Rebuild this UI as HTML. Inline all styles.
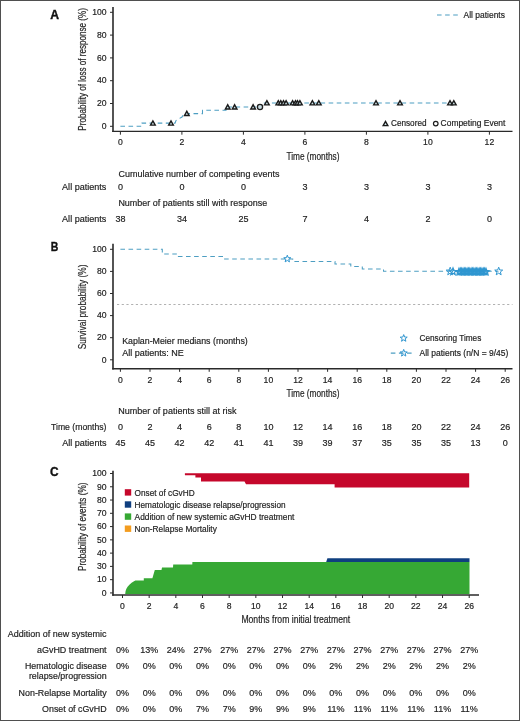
<!DOCTYPE html>
<html><head><meta charset="utf-8"><title>Figure</title>
<style>
html,body{margin:0;padding:0;background:#fff;}
body{width:520px;height:721px;overflow:hidden;}
svg{display:block;font-family:"Liberation Sans",sans-serif;will-change:transform;}
</style></head>
<body>
<svg width="520" height="721" viewBox="0 0 520 721" fill="#222222">
<rect x="0" y="0" width="520" height="721" fill="#fff"/>
<rect x="0.5" y="0.5" width="519" height="720" fill="none" stroke="#4f4f4f" stroke-width="1"/>
<text x="50.30" y="18.70" font-size="12.2" font-weight="bold" fill="#111" stroke="#111" stroke-width="0.35">A</text>
<text x="85.90" y="69.40" font-size="10.6" text-anchor="middle" textLength="122.50" lengthAdjust="spacingAndGlyphs" transform="rotate(-90 85.90 69.40)" stroke="#303030" stroke-width="0.22">Probability of loss of response (%)</text>
<line x1="113.00" y1="7.00" x2="113.00" y2="132.00" stroke="#2a2a2a" stroke-width="1.6"/>
<line x1="112.20" y1="131.40" x2="512.50" y2="131.40" stroke="#2a2a2a" stroke-width="1.4"/>
<line x1="110.00" y1="126.30" x2="113.00" y2="126.30" stroke="#2a2a2a" stroke-width="1"/>
<text x="106.60" y="129.05" font-size="8.6" text-anchor="end" stroke="#222222" stroke-width="0.18">0</text>
<line x1="110.00" y1="103.50" x2="113.00" y2="103.50" stroke="#2a2a2a" stroke-width="1"/>
<text x="106.60" y="106.25" font-size="8.6" text-anchor="end" stroke="#222222" stroke-width="0.18">20</text>
<line x1="110.00" y1="80.70" x2="113.00" y2="80.70" stroke="#2a2a2a" stroke-width="1"/>
<text x="106.60" y="83.45" font-size="8.6" text-anchor="end" stroke="#222222" stroke-width="0.18">40</text>
<line x1="110.00" y1="57.90" x2="113.00" y2="57.90" stroke="#2a2a2a" stroke-width="1"/>
<text x="106.60" y="60.65" font-size="8.6" text-anchor="end" stroke="#222222" stroke-width="0.18">60</text>
<line x1="110.00" y1="35.10" x2="113.00" y2="35.10" stroke="#2a2a2a" stroke-width="1"/>
<text x="106.60" y="37.85" font-size="8.6" text-anchor="end" stroke="#222222" stroke-width="0.18">80</text>
<line x1="110.00" y1="12.30" x2="113.00" y2="12.30" stroke="#2a2a2a" stroke-width="1"/>
<text x="106.60" y="15.05" font-size="8.6" text-anchor="end" stroke="#222222" stroke-width="0.18">100</text>
<line x1="120.40" y1="131.40" x2="120.40" y2="134.70" stroke="#2a2a2a" stroke-width="1"/>
<text x="120.40" y="145.45" font-size="8.6" text-anchor="middle" stroke="#222222" stroke-width="0.18">0</text>
<line x1="181.90" y1="131.40" x2="181.90" y2="134.70" stroke="#2a2a2a" stroke-width="1"/>
<text x="181.90" y="145.45" font-size="8.6" text-anchor="middle" stroke="#222222" stroke-width="0.18">2</text>
<line x1="243.40" y1="131.40" x2="243.40" y2="134.70" stroke="#2a2a2a" stroke-width="1"/>
<text x="243.40" y="145.45" font-size="8.6" text-anchor="middle" stroke="#222222" stroke-width="0.18">4</text>
<line x1="304.90" y1="131.40" x2="304.90" y2="134.70" stroke="#2a2a2a" stroke-width="1"/>
<text x="304.90" y="145.45" font-size="8.6" text-anchor="middle" stroke="#222222" stroke-width="0.18">6</text>
<line x1="366.40" y1="131.40" x2="366.40" y2="134.70" stroke="#2a2a2a" stroke-width="1"/>
<text x="366.40" y="145.45" font-size="8.6" text-anchor="middle" stroke="#222222" stroke-width="0.18">8</text>
<line x1="427.90" y1="131.40" x2="427.90" y2="134.70" stroke="#2a2a2a" stroke-width="1"/>
<text x="427.90" y="145.45" font-size="8.6" text-anchor="middle" stroke="#222222" stroke-width="0.18">10</text>
<line x1="489.40" y1="131.40" x2="489.40" y2="134.70" stroke="#2a2a2a" stroke-width="1"/>
<text x="489.40" y="145.45" font-size="8.6" text-anchor="middle" stroke="#222222" stroke-width="0.18">12</text>
<text x="286.50" y="160.20" font-size="10.5" textLength="53.00" lengthAdjust="spacingAndGlyphs" stroke="#303030" stroke-width="0.22">Time (months)</text>
<path d="M120.40,126.30 L142.00,126.30 L142.00,123.10 L175.00,123.10 L176.00,120.50 L182.00,117.00 L184.00,113.60 L202.50,113.60 L202.50,110.20 L226.00,110.20 L226.00,107.00 L261.50,107.00 L261.50,102.90 L455.50,102.90" fill="none" stroke="#4d9ec2" stroke-width="1.05" stroke-dasharray="4.6 3.5"/>
<path d="M150.55,125.11 L152.90,120.89 L155.25,125.11 Z" fill="#cfe4e8" stroke="#1a1a1a" stroke-width="1.4" stroke-linejoin="miter"/>
<path d="M168.65,125.11 L171.00,120.89 L173.35,125.11 Z" fill="#cfe4e8" stroke="#1a1a1a" stroke-width="1.4" stroke-linejoin="miter"/>
<path d="M184.45,115.52 L186.80,111.29 L189.15,115.52 Z" fill="#cfe4e8" stroke="#1a1a1a" stroke-width="1.4" stroke-linejoin="miter"/>
<path d="M225.35,109.02 L227.70,104.79 L230.05,109.02 Z" fill="#cfe4e8" stroke="#1a1a1a" stroke-width="1.4" stroke-linejoin="miter"/>
<path d="M232.25,109.02 L234.60,104.79 L236.95,109.02 Z" fill="#cfe4e8" stroke="#1a1a1a" stroke-width="1.4" stroke-linejoin="miter"/>
<path d="M250.75,109.02 L253.10,104.79 L255.45,109.02 Z" fill="#cfe4e8" stroke="#1a1a1a" stroke-width="1.4" stroke-linejoin="miter"/>
<path d="M264.55,104.91 L266.90,100.69 L269.25,104.91 Z" fill="#cfe4e8" stroke="#1a1a1a" stroke-width="1.4" stroke-linejoin="miter"/>
<path d="M275.95,104.91 L278.30,100.69 L280.65,104.91 Z" fill="#cfe4e8" stroke="#1a1a1a" stroke-width="1.4" stroke-linejoin="miter"/>
<path d="M278.45,104.91 L280.80,100.69 L283.15,104.91 Z" fill="#cfe4e8" stroke="#1a1a1a" stroke-width="1.4" stroke-linejoin="miter"/>
<path d="M281.15,104.91 L283.50,100.69 L285.85,104.91 Z" fill="#cfe4e8" stroke="#1a1a1a" stroke-width="1.4" stroke-linejoin="miter"/>
<path d="M283.75,104.91 L286.10,100.69 L288.45,104.91 Z" fill="#cfe4e8" stroke="#1a1a1a" stroke-width="1.4" stroke-linejoin="miter"/>
<path d="M290.25,104.91 L292.60,100.69 L294.95,104.91 Z" fill="#cfe4e8" stroke="#1a1a1a" stroke-width="1.4" stroke-linejoin="miter"/>
<path d="M293.15,104.91 L295.50,100.69 L297.85,104.91 Z" fill="#cfe4e8" stroke="#1a1a1a" stroke-width="1.4" stroke-linejoin="miter"/>
<path d="M295.15,104.91 L297.50,100.69 L299.85,104.91 Z" fill="#cfe4e8" stroke="#1a1a1a" stroke-width="1.4" stroke-linejoin="miter"/>
<path d="M297.55,104.91 L299.90,100.69 L302.25,104.91 Z" fill="#cfe4e8" stroke="#1a1a1a" stroke-width="1.4" stroke-linejoin="miter"/>
<path d="M310.05,104.91 L312.40,100.69 L314.75,104.91 Z" fill="#cfe4e8" stroke="#1a1a1a" stroke-width="1.4" stroke-linejoin="miter"/>
<path d="M316.45,104.91 L318.80,100.69 L321.15,104.91 Z" fill="#cfe4e8" stroke="#1a1a1a" stroke-width="1.4" stroke-linejoin="miter"/>
<path d="M373.65,104.91 L376.00,100.69 L378.35,104.91 Z" fill="#cfe4e8" stroke="#1a1a1a" stroke-width="1.4" stroke-linejoin="miter"/>
<path d="M397.65,104.91 L400.00,100.69 L402.35,104.91 Z" fill="#cfe4e8" stroke="#1a1a1a" stroke-width="1.4" stroke-linejoin="miter"/>
<path d="M447.65,104.91 L450.00,100.69 L452.35,104.91 Z" fill="#cfe4e8" stroke="#1a1a1a" stroke-width="1.4" stroke-linejoin="miter"/>
<path d="M451.45,104.91 L453.80,100.69 L456.15,104.91 Z" fill="#cfe4e8" stroke="#1a1a1a" stroke-width="1.4" stroke-linejoin="miter"/>
<circle cx="260.0" cy="107.0" r="2.6" fill="#c9dde3" stroke="#1e1e1e" stroke-width="1.3"/>
<line x1="437.00" y1="15.00" x2="458.50" y2="15.00" stroke="#4d9ec2" stroke-width="1.1" stroke-dasharray="4.6 3.5"/>
<text x="463.60" y="17.80" font-size="8.4" textLength="41.30" lengthAdjust="spacingAndGlyphs" stroke="#222222" stroke-width="0.18">All patients</text>
<path d="M383.15,125.61 L385.50,121.39 L387.85,125.61 Z" fill="#cfe4e8" stroke="#1a1a1a" stroke-width="1.4" stroke-linejoin="miter"/>
<text x="391.00" y="126.30" font-size="8.2" textLength="35.50" lengthAdjust="spacingAndGlyphs" stroke="#222222" stroke-width="0.18">Censored</text>
<circle cx="435.75" cy="123.6" r="2.3" fill="#fff" stroke="#1e1e1e" stroke-width="1.2"/>
<text x="440.60" y="126.30" font-size="8.2" textLength="64.80" lengthAdjust="spacingAndGlyphs" stroke="#222222" stroke-width="0.18">Competing Event</text>
<text x="118.40" y="176.70" font-size="9" textLength="161.00" lengthAdjust="spacingAndGlyphs" stroke="#222222" stroke-width="0.18">Cumulative number of competing events</text>
<text x="62.10" y="189.70" font-size="9" textLength="44.20" lengthAdjust="spacingAndGlyphs" stroke="#222222" stroke-width="0.18">All patients</text>
<text x="120.40" y="189.70" font-size="9" text-anchor="middle" stroke="#222222" stroke-width="0.18">0</text>
<text x="181.90" y="189.70" font-size="9" text-anchor="middle" stroke="#222222" stroke-width="0.18">0</text>
<text x="243.40" y="189.70" font-size="9" text-anchor="middle" stroke="#222222" stroke-width="0.18">0</text>
<text x="304.90" y="189.70" font-size="9" text-anchor="middle" stroke="#222222" stroke-width="0.18">3</text>
<text x="366.40" y="189.70" font-size="9" text-anchor="middle" stroke="#222222" stroke-width="0.18">3</text>
<text x="427.90" y="189.70" font-size="9" text-anchor="middle" stroke="#222222" stroke-width="0.18">3</text>
<text x="489.40" y="189.70" font-size="9" text-anchor="middle" stroke="#222222" stroke-width="0.18">3</text>
<text x="118.40" y="205.80" font-size="9" textLength="148.80" lengthAdjust="spacingAndGlyphs" stroke="#222222" stroke-width="0.18">Number of patients still with response</text>
<text x="62.10" y="221.50" font-size="9" textLength="44.20" lengthAdjust="spacingAndGlyphs" stroke="#222222" stroke-width="0.18">All patients</text>
<text x="120.40" y="221.50" font-size="9" text-anchor="middle" stroke="#222222" stroke-width="0.18">38</text>
<text x="181.90" y="221.50" font-size="9" text-anchor="middle" stroke="#222222" stroke-width="0.18">34</text>
<text x="243.40" y="221.50" font-size="9" text-anchor="middle" stroke="#222222" stroke-width="0.18">25</text>
<text x="304.90" y="221.50" font-size="9" text-anchor="middle" stroke="#222222" stroke-width="0.18">7</text>
<text x="366.40" y="221.50" font-size="9" text-anchor="middle" stroke="#222222" stroke-width="0.18">4</text>
<text x="427.90" y="221.50" font-size="9" text-anchor="middle" stroke="#222222" stroke-width="0.18">2</text>
<text x="489.40" y="221.50" font-size="9" text-anchor="middle" stroke="#222222" stroke-width="0.18">0</text>
<text x="50.70" y="251.00" font-size="12.2" textLength="7.60" lengthAdjust="spacingAndGlyphs" font-weight="bold" fill="#111" stroke="#111" stroke-width="0.35">B</text>
<text x="86.00" y="306.90" font-size="10.6" text-anchor="middle" textLength="84.60" lengthAdjust="spacingAndGlyphs" transform="rotate(-90 86.00 306.90)" stroke="#303030" stroke-width="0.22">Survival probability (%)</text>
<line x1="113.00" y1="243.70" x2="113.00" y2="369.50" stroke="#2a2a2a" stroke-width="1.6"/>
<line x1="112.20" y1="368.80" x2="512.50" y2="368.80" stroke="#2a2a2a" stroke-width="1.4"/>
<line x1="110.00" y1="359.80" x2="113.00" y2="359.80" stroke="#2a2a2a" stroke-width="1"/>
<text x="106.60" y="362.55" font-size="8.6" text-anchor="end" stroke="#222222" stroke-width="0.18">0</text>
<line x1="110.00" y1="337.70" x2="113.00" y2="337.70" stroke="#2a2a2a" stroke-width="1"/>
<text x="106.60" y="340.45" font-size="8.6" text-anchor="end" stroke="#222222" stroke-width="0.18">20</text>
<line x1="110.00" y1="315.60" x2="113.00" y2="315.60" stroke="#2a2a2a" stroke-width="1"/>
<text x="106.60" y="318.35" font-size="8.6" text-anchor="end" stroke="#222222" stroke-width="0.18">40</text>
<line x1="110.00" y1="293.50" x2="113.00" y2="293.50" stroke="#2a2a2a" stroke-width="1"/>
<text x="106.60" y="296.25" font-size="8.6" text-anchor="end" stroke="#222222" stroke-width="0.18">60</text>
<line x1="110.00" y1="271.40" x2="113.00" y2="271.40" stroke="#2a2a2a" stroke-width="1"/>
<text x="106.60" y="274.15" font-size="8.6" text-anchor="end" stroke="#222222" stroke-width="0.18">80</text>
<line x1="110.00" y1="249.30" x2="113.00" y2="249.30" stroke="#2a2a2a" stroke-width="1"/>
<text x="106.60" y="252.05" font-size="8.6" text-anchor="end" stroke="#222222" stroke-width="0.18">100</text>
<line x1="120.40" y1="368.80" x2="120.40" y2="371.80" stroke="#2a2a2a" stroke-width="1"/>
<text x="120.40" y="382.90" font-size="8.6" text-anchor="middle" stroke="#222222" stroke-width="0.18">0</text>
<line x1="150.00" y1="368.80" x2="150.00" y2="371.80" stroke="#2a2a2a" stroke-width="1"/>
<text x="150.00" y="382.90" font-size="8.6" text-anchor="middle" stroke="#222222" stroke-width="0.18">2</text>
<line x1="179.60" y1="368.80" x2="179.60" y2="371.80" stroke="#2a2a2a" stroke-width="1"/>
<text x="179.60" y="382.90" font-size="8.6" text-anchor="middle" stroke="#222222" stroke-width="0.18">4</text>
<line x1="209.20" y1="368.80" x2="209.20" y2="371.80" stroke="#2a2a2a" stroke-width="1"/>
<text x="209.20" y="382.90" font-size="8.6" text-anchor="middle" stroke="#222222" stroke-width="0.18">6</text>
<line x1="238.80" y1="368.80" x2="238.80" y2="371.80" stroke="#2a2a2a" stroke-width="1"/>
<text x="238.80" y="382.90" font-size="8.6" text-anchor="middle" stroke="#222222" stroke-width="0.18">8</text>
<line x1="268.40" y1="368.80" x2="268.40" y2="371.80" stroke="#2a2a2a" stroke-width="1"/>
<text x="268.40" y="382.90" font-size="8.6" text-anchor="middle" stroke="#222222" stroke-width="0.18">10</text>
<line x1="298.00" y1="368.80" x2="298.00" y2="371.80" stroke="#2a2a2a" stroke-width="1"/>
<text x="298.00" y="382.90" font-size="8.6" text-anchor="middle" stroke="#222222" stroke-width="0.18">12</text>
<line x1="327.60" y1="368.80" x2="327.60" y2="371.80" stroke="#2a2a2a" stroke-width="1"/>
<text x="327.60" y="382.90" font-size="8.6" text-anchor="middle" stroke="#222222" stroke-width="0.18">14</text>
<line x1="357.20" y1="368.80" x2="357.20" y2="371.80" stroke="#2a2a2a" stroke-width="1"/>
<text x="357.20" y="382.90" font-size="8.6" text-anchor="middle" stroke="#222222" stroke-width="0.18">16</text>
<line x1="386.80" y1="368.80" x2="386.80" y2="371.80" stroke="#2a2a2a" stroke-width="1"/>
<text x="386.80" y="382.90" font-size="8.6" text-anchor="middle" stroke="#222222" stroke-width="0.18">18</text>
<line x1="416.40" y1="368.80" x2="416.40" y2="371.80" stroke="#2a2a2a" stroke-width="1"/>
<text x="416.40" y="382.90" font-size="8.6" text-anchor="middle" stroke="#222222" stroke-width="0.18">20</text>
<line x1="446.00" y1="368.80" x2="446.00" y2="371.80" stroke="#2a2a2a" stroke-width="1"/>
<text x="446.00" y="382.90" font-size="8.6" text-anchor="middle" stroke="#222222" stroke-width="0.18">22</text>
<line x1="475.60" y1="368.80" x2="475.60" y2="371.80" stroke="#2a2a2a" stroke-width="1"/>
<text x="475.60" y="382.90" font-size="8.6" text-anchor="middle" stroke="#222222" stroke-width="0.18">24</text>
<line x1="505.20" y1="368.80" x2="505.20" y2="371.80" stroke="#2a2a2a" stroke-width="1"/>
<text x="505.20" y="382.90" font-size="8.6" text-anchor="middle" stroke="#222222" stroke-width="0.18">26</text>
<text x="286.50" y="397.20" font-size="10.5" textLength="53.00" lengthAdjust="spacingAndGlyphs" stroke="#303030" stroke-width="0.22">Time (months)</text>
<line x1="117.00" y1="304.50" x2="512.50" y2="304.50" stroke="#a8a8a8" stroke-width="0.9" stroke-dasharray="2.2 2.5"/>
<path d="M120.40,249.20 L162.30,249.20 L162.30,254.00 L176.30,254.00 L176.30,256.50 L223.00,256.50 L223.00,258.90 L292.70,258.90 L292.70,261.50 L335.00,261.50 L335.00,264.00 L350.80,264.00 L350.80,266.50 L362.30,266.50 L362.30,268.90 L383.50,268.90 L383.50,271.30 L498.50,271.30" fill="none" stroke="#4d9ec2" stroke-width="1.05" stroke-dasharray="4.6 3.5"/>
<polygon points="287.30,255.20 288.21,257.64 290.82,257.76 288.78,259.38 289.47,261.89 287.30,260.45 285.13,261.89 285.82,259.38 283.78,257.76 286.39,257.64" fill="none" stroke="#2f96d0" stroke-width="1.0" stroke-linejoin="miter"/>
<polygon points="450.20,267.20 451.24,269.97 454.19,270.10 451.88,271.95 452.67,274.80 450.20,273.16 447.73,274.80 448.52,271.95 446.21,270.10 449.16,269.97" fill="none" stroke="#2f96d0" stroke-width="1.0" stroke-linejoin="miter"/>
<polygon points="453.00,267.70 453.96,270.27 456.71,270.39 454.56,272.11 455.29,274.76 453.00,273.24 450.71,274.76 451.44,272.11 449.29,270.39 452.04,270.27" fill="none" stroke="#2f96d0" stroke-width="1.1" stroke-linejoin="miter"/>
<polygon points="459.00,268.10 459.91,270.54 462.52,270.66 460.48,272.28 461.17,274.79 459.00,273.35 456.83,274.79 457.52,272.28 455.48,270.66 458.09,270.54" fill="none" stroke="#2f96d0" stroke-width="1.1" stroke-linejoin="miter"/>
<polygon points="460.35,268.10 461.26,270.54 463.87,270.66 461.83,272.28 462.52,274.79 460.35,273.35 458.18,274.79 458.87,272.28 456.83,270.66 459.44,270.54" fill="none" stroke="#2f96d0" stroke-width="1.1" stroke-linejoin="miter"/>
<polygon points="461.70,268.10 462.61,270.54 465.22,270.66 463.18,272.28 463.87,274.79 461.70,273.35 459.53,274.79 460.22,272.28 458.18,270.66 460.79,270.54" fill="none" stroke="#2f96d0" stroke-width="1.1" stroke-linejoin="miter"/>
<polygon points="463.05,268.10 463.96,270.54 466.57,270.66 464.53,272.28 465.22,274.79 463.05,273.35 460.88,274.79 461.57,272.28 459.53,270.66 462.14,270.54" fill="none" stroke="#2f96d0" stroke-width="1.1" stroke-linejoin="miter"/>
<polygon points="464.40,268.10 465.31,270.54 467.92,270.66 465.88,272.28 466.57,274.79 464.40,273.35 462.23,274.79 462.92,272.28 460.88,270.66 463.49,270.54" fill="none" stroke="#2f96d0" stroke-width="1.1" stroke-linejoin="miter"/>
<polygon points="465.75,268.10 466.66,270.54 469.27,270.66 467.23,272.28 467.92,274.79 465.75,273.35 463.58,274.79 464.27,272.28 462.23,270.66 464.84,270.54" fill="none" stroke="#2f96d0" stroke-width="1.1" stroke-linejoin="miter"/>
<polygon points="467.10,268.10 468.01,270.54 470.62,270.66 468.58,272.28 469.27,274.79 467.10,273.35 464.93,274.79 465.62,272.28 463.58,270.66 466.19,270.54" fill="none" stroke="#2f96d0" stroke-width="1.1" stroke-linejoin="miter"/>
<polygon points="468.45,268.10 469.36,270.54 471.97,270.66 469.93,272.28 470.62,274.79 468.45,273.35 466.28,274.79 466.97,272.28 464.93,270.66 467.54,270.54" fill="none" stroke="#2f96d0" stroke-width="1.1" stroke-linejoin="miter"/>
<polygon points="469.80,268.10 470.71,270.54 473.32,270.66 471.28,272.28 471.97,274.79 469.80,273.35 467.63,274.79 468.32,272.28 466.28,270.66 468.89,270.54" fill="none" stroke="#2f96d0" stroke-width="1.1" stroke-linejoin="miter"/>
<polygon points="471.15,268.10 472.06,270.54 474.67,270.66 472.63,272.28 473.32,274.79 471.15,273.35 468.98,274.79 469.67,272.28 467.63,270.66 470.24,270.54" fill="none" stroke="#2f96d0" stroke-width="1.1" stroke-linejoin="miter"/>
<polygon points="472.50,268.10 473.41,270.54 476.02,270.66 473.98,272.28 474.67,274.79 472.50,273.35 470.33,274.79 471.02,272.28 468.98,270.66 471.59,270.54" fill="none" stroke="#2f96d0" stroke-width="1.1" stroke-linejoin="miter"/>
<polygon points="473.85,268.10 474.76,270.54 477.37,270.66 475.33,272.28 476.02,274.79 473.85,273.35 471.68,274.79 472.37,272.28 470.33,270.66 472.94,270.54" fill="none" stroke="#2f96d0" stroke-width="1.1" stroke-linejoin="miter"/>
<polygon points="475.20,268.10 476.11,270.54 478.72,270.66 476.68,272.28 477.37,274.79 475.20,273.35 473.03,274.79 473.72,272.28 471.68,270.66 474.29,270.54" fill="none" stroke="#2f96d0" stroke-width="1.1" stroke-linejoin="miter"/>
<polygon points="476.55,268.10 477.46,270.54 480.07,270.66 478.03,272.28 478.72,274.79 476.55,273.35 474.38,274.79 475.07,272.28 473.03,270.66 475.64,270.54" fill="none" stroke="#2f96d0" stroke-width="1.1" stroke-linejoin="miter"/>
<polygon points="477.90,268.10 478.81,270.54 481.42,270.66 479.38,272.28 480.07,274.79 477.90,273.35 475.73,274.79 476.42,272.28 474.38,270.66 476.99,270.54" fill="none" stroke="#2f96d0" stroke-width="1.1" stroke-linejoin="miter"/>
<polygon points="479.25,268.10 480.16,270.54 482.77,270.66 480.73,272.28 481.42,274.79 479.25,273.35 477.08,274.79 477.77,272.28 475.73,270.66 478.34,270.54" fill="none" stroke="#2f96d0" stroke-width="1.1" stroke-linejoin="miter"/>
<polygon points="480.60,268.10 481.51,270.54 484.12,270.66 482.08,272.28 482.77,274.79 480.60,273.35 478.43,274.79 479.12,272.28 477.08,270.66 479.69,270.54" fill="none" stroke="#2f96d0" stroke-width="1.1" stroke-linejoin="miter"/>
<polygon points="481.95,268.10 482.86,270.54 485.47,270.66 483.43,272.28 484.12,274.79 481.95,273.35 479.78,274.79 480.47,272.28 478.43,270.66 481.04,270.54" fill="none" stroke="#2f96d0" stroke-width="1.1" stroke-linejoin="miter"/>
<polygon points="483.30,268.10 484.21,270.54 486.82,270.66 484.78,272.28 485.47,274.79 483.30,273.35 481.13,274.79 481.82,272.28 479.78,270.66 482.39,270.54" fill="none" stroke="#2f96d0" stroke-width="1.1" stroke-linejoin="miter"/>
<polygon points="484.65,268.10 485.56,270.54 488.17,270.66 486.13,272.28 486.82,274.79 484.65,273.35 482.48,274.79 483.17,272.28 481.13,270.66 483.74,270.54" fill="none" stroke="#2f96d0" stroke-width="1.1" stroke-linejoin="miter"/>
<polygon points="486.00,268.10 486.91,270.54 489.52,270.66 487.48,272.28 488.17,274.79 486.00,273.35 483.83,274.79 484.52,272.28 482.48,270.66 485.09,270.54" fill="none" stroke="#2f96d0" stroke-width="1.1" stroke-linejoin="miter"/>
<polygon points="498.70,267.20 499.74,269.97 502.69,270.10 500.38,271.95 501.17,274.80 498.70,273.16 496.23,274.80 497.02,271.95 494.71,270.10 497.66,269.97" fill="none" stroke="#2f96d0" stroke-width="1.0" stroke-linejoin="miter"/>
<text x="122.20" y="343.50" font-size="9" textLength="125.60" lengthAdjust="spacingAndGlyphs" stroke="#222222" stroke-width="0.18">Kaplan-Meier medians (months)</text>
<text x="122.20" y="356.30" font-size="9" textLength="61.70" lengthAdjust="spacingAndGlyphs" stroke="#222222" stroke-width="0.18">All patients: NE</text>
<polygon points="403.70,334.60 404.61,337.04 407.22,337.16 405.18,338.78 405.87,341.29 403.70,339.85 401.53,341.29 402.22,338.78 400.18,337.16 402.79,337.04" fill="none" stroke="#2f96d0" stroke-width="1.0" stroke-linejoin="miter"/>
<text x="419.50" y="341.00" font-size="8.5" textLength="61.80" lengthAdjust="spacingAndGlyphs" stroke="#222222" stroke-width="0.18">Censoring Times</text>
<line x1="390.80" y1="353.10" x2="414.00" y2="353.10" stroke="#4d9ec2" stroke-width="1.1" stroke-dasharray="4.6 3.5"/>
<polygon points="403.70,349.40 404.61,351.84 407.22,351.96 405.18,353.58 405.87,356.09 403.70,354.65 401.53,356.09 402.22,353.58 400.18,351.96 402.79,351.84" fill="none" stroke="#2f96d0" stroke-width="1.0" stroke-linejoin="miter"/>
<text x="419.50" y="355.50" font-size="8.5" textLength="88.80" lengthAdjust="spacingAndGlyphs" stroke="#222222" stroke-width="0.18">All patients (n/N = 9/45)</text>
<text x="118.30" y="413.80" font-size="9" textLength="118.20" lengthAdjust="spacingAndGlyphs" stroke="#222222" stroke-width="0.18">Number of patients still at risk</text>
<text x="51.00" y="429.60" font-size="9" textLength="55.50" lengthAdjust="spacingAndGlyphs" stroke="#222222" stroke-width="0.18">Time (months)</text>
<text x="62.20" y="445.80" font-size="9" textLength="44.30" lengthAdjust="spacingAndGlyphs" stroke="#222222" stroke-width="0.18">All patients</text>
<text x="120.40" y="429.60" font-size="9" text-anchor="middle" stroke="#222222" stroke-width="0.18">0</text>
<text x="120.40" y="445.80" font-size="9" text-anchor="middle" stroke="#222222" stroke-width="0.18">45</text>
<text x="150.00" y="429.60" font-size="9" text-anchor="middle" stroke="#222222" stroke-width="0.18">2</text>
<text x="150.00" y="445.80" font-size="9" text-anchor="middle" stroke="#222222" stroke-width="0.18">45</text>
<text x="179.60" y="429.60" font-size="9" text-anchor="middle" stroke="#222222" stroke-width="0.18">4</text>
<text x="179.60" y="445.80" font-size="9" text-anchor="middle" stroke="#222222" stroke-width="0.18">42</text>
<text x="209.20" y="429.60" font-size="9" text-anchor="middle" stroke="#222222" stroke-width="0.18">6</text>
<text x="209.20" y="445.80" font-size="9" text-anchor="middle" stroke="#222222" stroke-width="0.18">42</text>
<text x="238.80" y="429.60" font-size="9" text-anchor="middle" stroke="#222222" stroke-width="0.18">8</text>
<text x="238.80" y="445.80" font-size="9" text-anchor="middle" stroke="#222222" stroke-width="0.18">41</text>
<text x="268.40" y="429.60" font-size="9" text-anchor="middle" stroke="#222222" stroke-width="0.18">10</text>
<text x="268.40" y="445.80" font-size="9" text-anchor="middle" stroke="#222222" stroke-width="0.18">41</text>
<text x="298.00" y="429.60" font-size="9" text-anchor="middle" stroke="#222222" stroke-width="0.18">12</text>
<text x="298.00" y="445.80" font-size="9" text-anchor="middle" stroke="#222222" stroke-width="0.18">39</text>
<text x="327.60" y="429.60" font-size="9" text-anchor="middle" stroke="#222222" stroke-width="0.18">14</text>
<text x="327.60" y="445.80" font-size="9" text-anchor="middle" stroke="#222222" stroke-width="0.18">39</text>
<text x="357.20" y="429.60" font-size="9" text-anchor="middle" stroke="#222222" stroke-width="0.18">16</text>
<text x="357.20" y="445.80" font-size="9" text-anchor="middle" stroke="#222222" stroke-width="0.18">37</text>
<text x="386.80" y="429.60" font-size="9" text-anchor="middle" stroke="#222222" stroke-width="0.18">18</text>
<text x="386.80" y="445.80" font-size="9" text-anchor="middle" stroke="#222222" stroke-width="0.18">35</text>
<text x="416.40" y="429.60" font-size="9" text-anchor="middle" stroke="#222222" stroke-width="0.18">20</text>
<text x="416.40" y="445.80" font-size="9" text-anchor="middle" stroke="#222222" stroke-width="0.18">35</text>
<text x="446.00" y="429.60" font-size="9" text-anchor="middle" stroke="#222222" stroke-width="0.18">22</text>
<text x="446.00" y="445.80" font-size="9" text-anchor="middle" stroke="#222222" stroke-width="0.18">35</text>
<text x="475.60" y="429.60" font-size="9" text-anchor="middle" stroke="#222222" stroke-width="0.18">24</text>
<text x="475.60" y="445.80" font-size="9" text-anchor="middle" stroke="#222222" stroke-width="0.18">13</text>
<text x="505.20" y="429.60" font-size="9" text-anchor="middle" stroke="#222222" stroke-width="0.18">26</text>
<text x="505.20" y="445.80" font-size="9" text-anchor="middle" stroke="#222222" stroke-width="0.18">0</text>
<text x="50.00" y="475.50" font-size="12.2" textLength="8.60" lengthAdjust="spacingAndGlyphs" font-weight="bold" fill="#111" stroke="#111" stroke-width="0.35">C</text>
<text x="86.20" y="526.80" font-size="10.6" text-anchor="middle" textLength="88.40" lengthAdjust="spacingAndGlyphs" transform="rotate(-90 86.20 526.80)" stroke="#303030" stroke-width="0.22">Probability of events (%)</text>
<path d="M326.2,562.0 L327.4,558.2 L469.5,558.2 L469.5,562.0 Z" fill="#0f3f7f"/>
<path d="M125.20,594.00 L125.60,591.00 L126.40,588.80 L127.60,586.80 L129.40,584.70 L131.60,582.80 L133.60,581.40 L135.40,580.50 L143.80,580.50 L143.80,578.20 L152.40,578.20 L154.80,570.00 L161.50,570.00 L162.00,567.40 L173.00,567.40 L173.20,564.60 L192.30,564.60 L192.40,562.00 L469.50,562.00 L469.50,594.00 Z" fill="#36a834"/>
<path d="M184.90,473.20 L469.20,473.20 L469.20,487.50 L334.60,487.50 L334.60,484.20 L246.00,484.20 L244.50,481.40 L201.00,481.40 L201.00,477.60 L195.40,477.60 L195.40,475.20 L184.90,475.20 Z" fill="#c5072b"/>
<line x1="113.00" y1="470.80" x2="113.00" y2="595.70" stroke="#2a2a2a" stroke-width="1.6"/>
<line x1="112.20" y1="595.00" x2="479.00" y2="595.00" stroke="#2a2a2a" stroke-width="1.4"/>
<line x1="110.00" y1="473.50" x2="113.00" y2="473.50" stroke="#2a2a2a" stroke-width="1"/>
<text x="106.60" y="476.25" font-size="8.6" text-anchor="end" stroke="#222222" stroke-width="0.18">100</text>
<line x1="110.00" y1="486.77" x2="113.00" y2="486.77" stroke="#2a2a2a" stroke-width="1"/>
<text x="106.60" y="489.52" font-size="8.6" text-anchor="end" stroke="#222222" stroke-width="0.18">90</text>
<line x1="110.00" y1="500.04" x2="113.00" y2="500.04" stroke="#2a2a2a" stroke-width="1"/>
<text x="106.60" y="502.79" font-size="8.6" text-anchor="end" stroke="#222222" stroke-width="0.18">80</text>
<line x1="110.00" y1="513.31" x2="113.00" y2="513.31" stroke="#2a2a2a" stroke-width="1"/>
<text x="106.60" y="516.06" font-size="8.6" text-anchor="end" stroke="#222222" stroke-width="0.18">70</text>
<line x1="110.00" y1="526.58" x2="113.00" y2="526.58" stroke="#2a2a2a" stroke-width="1"/>
<text x="106.60" y="529.33" font-size="8.6" text-anchor="end" stroke="#222222" stroke-width="0.18">60</text>
<line x1="110.00" y1="539.85" x2="113.00" y2="539.85" stroke="#2a2a2a" stroke-width="1"/>
<text x="106.60" y="542.60" font-size="8.6" text-anchor="end" stroke="#222222" stroke-width="0.18">50</text>
<line x1="110.00" y1="553.12" x2="113.00" y2="553.12" stroke="#2a2a2a" stroke-width="1"/>
<text x="106.60" y="555.87" font-size="8.6" text-anchor="end" stroke="#222222" stroke-width="0.18">40</text>
<line x1="110.00" y1="566.39" x2="113.00" y2="566.39" stroke="#2a2a2a" stroke-width="1"/>
<text x="106.60" y="569.14" font-size="8.6" text-anchor="end" stroke="#222222" stroke-width="0.18">30</text>
<line x1="110.00" y1="579.66" x2="113.00" y2="579.66" stroke="#2a2a2a" stroke-width="1"/>
<text x="106.60" y="582.41" font-size="8.6" text-anchor="end" stroke="#222222" stroke-width="0.18">10</text>
<line x1="110.00" y1="592.93" x2="113.00" y2="592.93" stroke="#2a2a2a" stroke-width="1"/>
<text x="106.60" y="595.68" font-size="8.6" text-anchor="end" stroke="#222222" stroke-width="0.18">0</text>
<line x1="122.50" y1="595.00" x2="122.50" y2="598.00" stroke="#2a2a2a" stroke-width="1"/>
<text x="122.50" y="608.80" font-size="8.6" text-anchor="middle" stroke="#222222" stroke-width="0.18">0</text>
<line x1="149.17" y1="595.00" x2="149.17" y2="598.00" stroke="#2a2a2a" stroke-width="1"/>
<text x="149.17" y="608.80" font-size="8.6" text-anchor="middle" stroke="#222222" stroke-width="0.18">2</text>
<line x1="175.84" y1="595.00" x2="175.84" y2="598.00" stroke="#2a2a2a" stroke-width="1"/>
<text x="175.84" y="608.80" font-size="8.6" text-anchor="middle" stroke="#222222" stroke-width="0.18">4</text>
<line x1="202.51" y1="595.00" x2="202.51" y2="598.00" stroke="#2a2a2a" stroke-width="1"/>
<text x="202.51" y="608.80" font-size="8.6" text-anchor="middle" stroke="#222222" stroke-width="0.18">6</text>
<line x1="229.18" y1="595.00" x2="229.18" y2="598.00" stroke="#2a2a2a" stroke-width="1"/>
<text x="229.18" y="608.80" font-size="8.6" text-anchor="middle" stroke="#222222" stroke-width="0.18">8</text>
<line x1="255.85" y1="595.00" x2="255.85" y2="598.00" stroke="#2a2a2a" stroke-width="1"/>
<text x="255.85" y="608.80" font-size="8.6" text-anchor="middle" stroke="#222222" stroke-width="0.18">10</text>
<line x1="282.52" y1="595.00" x2="282.52" y2="598.00" stroke="#2a2a2a" stroke-width="1"/>
<text x="282.52" y="608.80" font-size="8.6" text-anchor="middle" stroke="#222222" stroke-width="0.18">12</text>
<line x1="309.19" y1="595.00" x2="309.19" y2="598.00" stroke="#2a2a2a" stroke-width="1"/>
<text x="309.19" y="608.80" font-size="8.6" text-anchor="middle" stroke="#222222" stroke-width="0.18">14</text>
<line x1="335.86" y1="595.00" x2="335.86" y2="598.00" stroke="#2a2a2a" stroke-width="1"/>
<text x="335.86" y="608.80" font-size="8.6" text-anchor="middle" stroke="#222222" stroke-width="0.18">16</text>
<line x1="362.53" y1="595.00" x2="362.53" y2="598.00" stroke="#2a2a2a" stroke-width="1"/>
<text x="362.53" y="608.80" font-size="8.6" text-anchor="middle" stroke="#222222" stroke-width="0.18">18</text>
<line x1="389.20" y1="595.00" x2="389.20" y2="598.00" stroke="#2a2a2a" stroke-width="1"/>
<text x="389.20" y="608.80" font-size="8.6" text-anchor="middle" stroke="#222222" stroke-width="0.18">20</text>
<line x1="415.87" y1="595.00" x2="415.87" y2="598.00" stroke="#2a2a2a" stroke-width="1"/>
<text x="415.87" y="608.80" font-size="8.6" text-anchor="middle" stroke="#222222" stroke-width="0.18">22</text>
<line x1="442.54" y1="595.00" x2="442.54" y2="598.00" stroke="#2a2a2a" stroke-width="1"/>
<text x="442.54" y="608.80" font-size="8.6" text-anchor="middle" stroke="#222222" stroke-width="0.18">24</text>
<line x1="469.21" y1="595.00" x2="469.21" y2="598.00" stroke="#2a2a2a" stroke-width="1"/>
<text x="469.21" y="608.80" font-size="8.6" text-anchor="middle" stroke="#222222" stroke-width="0.18">26</text>
<text x="241.40" y="623.40" font-size="10.5" textLength="108.80" lengthAdjust="spacingAndGlyphs" stroke="#303030" stroke-width="0.22">Months from initial treatment</text>
<rect x="124.8" y="489.20" width="6.4" height="6.4" fill="#c5072b"/>
<text x="134.60" y="495.50" font-size="8.6" textLength="60.00" lengthAdjust="spacingAndGlyphs" stroke="#222222" stroke-width="0.18">Onset of cGvHD</text>
<rect x="124.8" y="501.30" width="6.4" height="6.4" fill="#0f3f7f"/>
<text x="134.60" y="507.60" font-size="8.6" textLength="151.00" lengthAdjust="spacingAndGlyphs" stroke="#222222" stroke-width="0.18">Hematologic disease relapse/progression</text>
<rect x="124.8" y="513.40" width="6.4" height="6.4" fill="#36a834"/>
<text x="134.60" y="519.70" font-size="8.6" textLength="159.80" lengthAdjust="spacingAndGlyphs" stroke="#222222" stroke-width="0.18">Addition of new systemic aGvHD treatment</text>
<rect x="124.8" y="525.50" width="6.4" height="6.4" fill="#f39c1f"/>
<text x="134.60" y="531.80" font-size="8.6" textLength="82.20" lengthAdjust="spacingAndGlyphs" stroke="#222222" stroke-width="0.18">Non-Relapse Mortality</text>
<text x="7.80" y="637.10" font-size="9" textLength="98.70" lengthAdjust="spacingAndGlyphs" stroke="#222222" stroke-width="0.18">Addition of new systemic</text>
<text x="106.60" y="652.80" font-size="9" text-anchor="end" textLength="69.60" lengthAdjust="spacingAndGlyphs" stroke="#222222" stroke-width="0.18">aGvHD treatment</text>
<text x="106.60" y="668.90" font-size="9" text-anchor="end" textLength="81.60" lengthAdjust="spacingAndGlyphs" stroke="#222222" stroke-width="0.18">Hematologic disease</text>
<text x="106.60" y="678.90" font-size="9" text-anchor="end" textLength="77.70" lengthAdjust="spacingAndGlyphs" stroke="#222222" stroke-width="0.18">relapse/progression</text>
<text x="106.60" y="695.50" font-size="9" text-anchor="end" textLength="88.00" lengthAdjust="spacingAndGlyphs" stroke="#222222" stroke-width="0.18">Non-Relapse Mortality</text>
<text x="106.60" y="711.60" font-size="9" text-anchor="end" textLength="64.50" lengthAdjust="spacingAndGlyphs" stroke="#222222" stroke-width="0.18">Onset of cGvHD</text>
<text x="122.50" y="652.80" font-size="9" text-anchor="middle" stroke="#222222" stroke-width="0.18">0%</text>
<text x="122.50" y="668.90" font-size="9" text-anchor="middle" stroke="#222222" stroke-width="0.18">0%</text>
<text x="122.50" y="695.50" font-size="9" text-anchor="middle" stroke="#222222" stroke-width="0.18">0%</text>
<text x="122.50" y="711.60" font-size="9" text-anchor="middle" stroke="#222222" stroke-width="0.18">0%</text>
<text x="149.17" y="652.80" font-size="9" text-anchor="middle" stroke="#222222" stroke-width="0.18">13%</text>
<text x="149.17" y="668.90" font-size="9" text-anchor="middle" stroke="#222222" stroke-width="0.18">0%</text>
<text x="149.17" y="695.50" font-size="9" text-anchor="middle" stroke="#222222" stroke-width="0.18">0%</text>
<text x="149.17" y="711.60" font-size="9" text-anchor="middle" stroke="#222222" stroke-width="0.18">0%</text>
<text x="175.84" y="652.80" font-size="9" text-anchor="middle" stroke="#222222" stroke-width="0.18">24%</text>
<text x="175.84" y="668.90" font-size="9" text-anchor="middle" stroke="#222222" stroke-width="0.18">0%</text>
<text x="175.84" y="695.50" font-size="9" text-anchor="middle" stroke="#222222" stroke-width="0.18">0%</text>
<text x="175.84" y="711.60" font-size="9" text-anchor="middle" stroke="#222222" stroke-width="0.18">0%</text>
<text x="202.51" y="652.80" font-size="9" text-anchor="middle" stroke="#222222" stroke-width="0.18">27%</text>
<text x="202.51" y="668.90" font-size="9" text-anchor="middle" stroke="#222222" stroke-width="0.18">0%</text>
<text x="202.51" y="695.50" font-size="9" text-anchor="middle" stroke="#222222" stroke-width="0.18">0%</text>
<text x="202.51" y="711.60" font-size="9" text-anchor="middle" stroke="#222222" stroke-width="0.18">7%</text>
<text x="229.18" y="652.80" font-size="9" text-anchor="middle" stroke="#222222" stroke-width="0.18">27%</text>
<text x="229.18" y="668.90" font-size="9" text-anchor="middle" stroke="#222222" stroke-width="0.18">0%</text>
<text x="229.18" y="695.50" font-size="9" text-anchor="middle" stroke="#222222" stroke-width="0.18">0%</text>
<text x="229.18" y="711.60" font-size="9" text-anchor="middle" stroke="#222222" stroke-width="0.18">7%</text>
<text x="255.85" y="652.80" font-size="9" text-anchor="middle" stroke="#222222" stroke-width="0.18">27%</text>
<text x="255.85" y="668.90" font-size="9" text-anchor="middle" stroke="#222222" stroke-width="0.18">0%</text>
<text x="255.85" y="695.50" font-size="9" text-anchor="middle" stroke="#222222" stroke-width="0.18">0%</text>
<text x="255.85" y="711.60" font-size="9" text-anchor="middle" stroke="#222222" stroke-width="0.18">9%</text>
<text x="282.52" y="652.80" font-size="9" text-anchor="middle" stroke="#222222" stroke-width="0.18">27%</text>
<text x="282.52" y="668.90" font-size="9" text-anchor="middle" stroke="#222222" stroke-width="0.18">0%</text>
<text x="282.52" y="695.50" font-size="9" text-anchor="middle" stroke="#222222" stroke-width="0.18">0%</text>
<text x="282.52" y="711.60" font-size="9" text-anchor="middle" stroke="#222222" stroke-width="0.18">9%</text>
<text x="309.19" y="652.80" font-size="9" text-anchor="middle" stroke="#222222" stroke-width="0.18">27%</text>
<text x="309.19" y="668.90" font-size="9" text-anchor="middle" stroke="#222222" stroke-width="0.18">0%</text>
<text x="309.19" y="695.50" font-size="9" text-anchor="middle" stroke="#222222" stroke-width="0.18">0%</text>
<text x="309.19" y="711.60" font-size="9" text-anchor="middle" stroke="#222222" stroke-width="0.18">9%</text>
<text x="335.86" y="652.80" font-size="9" text-anchor="middle" stroke="#222222" stroke-width="0.18">27%</text>
<text x="335.86" y="668.90" font-size="9" text-anchor="middle" stroke="#222222" stroke-width="0.18">2%</text>
<text x="335.86" y="695.50" font-size="9" text-anchor="middle" stroke="#222222" stroke-width="0.18">0%</text>
<text x="335.86" y="711.60" font-size="9" text-anchor="middle" stroke="#222222" stroke-width="0.18">11%</text>
<text x="362.53" y="652.80" font-size="9" text-anchor="middle" stroke="#222222" stroke-width="0.18">27%</text>
<text x="362.53" y="668.90" font-size="9" text-anchor="middle" stroke="#222222" stroke-width="0.18">2%</text>
<text x="362.53" y="695.50" font-size="9" text-anchor="middle" stroke="#222222" stroke-width="0.18">0%</text>
<text x="362.53" y="711.60" font-size="9" text-anchor="middle" stroke="#222222" stroke-width="0.18">11%</text>
<text x="389.20" y="652.80" font-size="9" text-anchor="middle" stroke="#222222" stroke-width="0.18">27%</text>
<text x="389.20" y="668.90" font-size="9" text-anchor="middle" stroke="#222222" stroke-width="0.18">2%</text>
<text x="389.20" y="695.50" font-size="9" text-anchor="middle" stroke="#222222" stroke-width="0.18">0%</text>
<text x="389.20" y="711.60" font-size="9" text-anchor="middle" stroke="#222222" stroke-width="0.18">11%</text>
<text x="415.87" y="652.80" font-size="9" text-anchor="middle" stroke="#222222" stroke-width="0.18">27%</text>
<text x="415.87" y="668.90" font-size="9" text-anchor="middle" stroke="#222222" stroke-width="0.18">2%</text>
<text x="415.87" y="695.50" font-size="9" text-anchor="middle" stroke="#222222" stroke-width="0.18">0%</text>
<text x="415.87" y="711.60" font-size="9" text-anchor="middle" stroke="#222222" stroke-width="0.18">11%</text>
<text x="442.54" y="652.80" font-size="9" text-anchor="middle" stroke="#222222" stroke-width="0.18">27%</text>
<text x="442.54" y="668.90" font-size="9" text-anchor="middle" stroke="#222222" stroke-width="0.18">2%</text>
<text x="442.54" y="695.50" font-size="9" text-anchor="middle" stroke="#222222" stroke-width="0.18">0%</text>
<text x="442.54" y="711.60" font-size="9" text-anchor="middle" stroke="#222222" stroke-width="0.18">11%</text>
<text x="469.21" y="652.80" font-size="9" text-anchor="middle" stroke="#222222" stroke-width="0.18">27%</text>
<text x="469.21" y="668.90" font-size="9" text-anchor="middle" stroke="#222222" stroke-width="0.18">2%</text>
<text x="469.21" y="695.50" font-size="9" text-anchor="middle" stroke="#222222" stroke-width="0.18">0%</text>
<text x="469.21" y="711.60" font-size="9" text-anchor="middle" stroke="#222222" stroke-width="0.18">11%</text>
</svg>
</body></html>
